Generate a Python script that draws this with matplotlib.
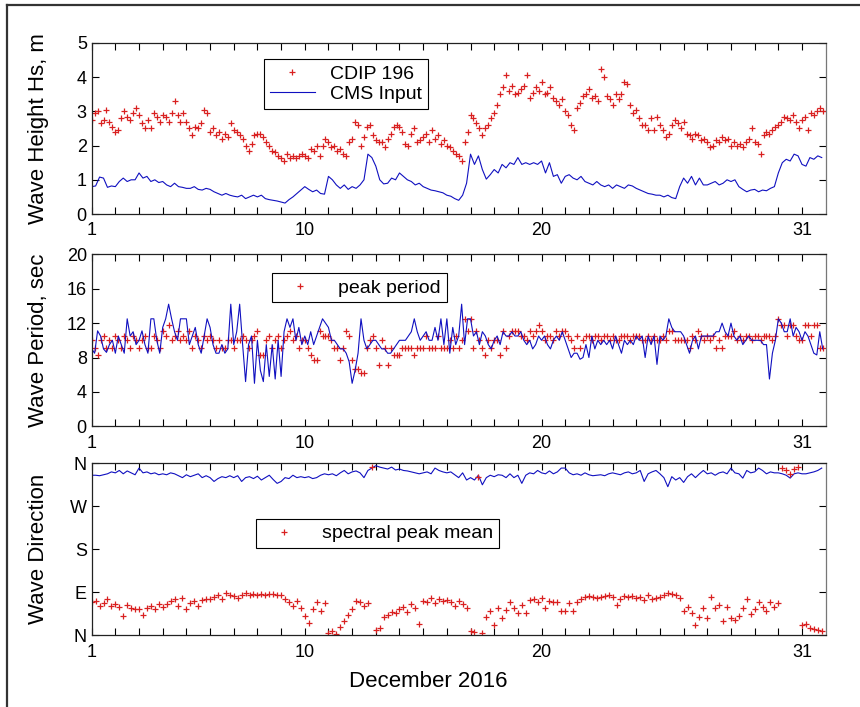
import numpy as np
import matplotlib
matplotlib.use("Agg")
import matplotlib.pyplot as plt
from matplotlib.lines import Line2D

plt.rcParams['font.family'] = ['Liberation Sans', 'DejaVu Sans']

# --- data (December 2016) ---
# significant wave height, CDIP 196 buoy (8 samples / day)
hs_cdip = [
    2.75, 2.95, 3.0, 2.65, 2.75, 3.05, 2.7, 2.55,
    2.4, 2.45, 2.8, 3.0, 2.85, 2.75, 2.95, 3.1,
    2.9, 2.65, 2.5, 2.75, 2.5, 2.95, 2.85, 2.7,
    2.9, 2.85, 2.7, 2.95, 3.3, 2.9, 2.7, 2.95,
    2.7, 2.5, 2.3, 2.55, 2.5, 2.65, 3.05, 2.95,
    2.4, 2.5, 2.3, 2.4, 2.2, 2.35, 2.25, 2.65,
    2.45, 2.4, 2.3, 2.2, 2.0, 1.85, 2.05, 2.3,
    2.35, 2.35, 2.25, 2.1, 2.0, 1.85, 1.8, 1.7,
    1.65, 1.55, 1.75, 1.65, 1.7, 1.65, 1.7, 1.75,
    1.7, 1.65, 1.9, 1.85, 2.0, 1.7, 2.0, 2.2,
    2.1, 1.95, 2.0, 1.85, 1.9, 1.75, 1.7, 2.1,
    2.2, 2.7, 2.6, 2.0, 2.25, 2.55, 2.6, 2.3,
    2.15, 2.1, 2.1, 1.95, 2.2, 2.35, 2.55, 2.6,
    2.55, 2.4, 2.05, 2.0, 2.35, 2.5, 2.1, 2.15,
    2.25, 2.35, 2.1, 2.45, 2.2, 2.3, 2.05, 2.15,
    2.0, 1.95, 1.85, 1.75, 1.7, 1.55, 2.1, 2.4,
    2.9, 2.8, 2.65, 2.5, 2.3, 2.5, 2.6, 2.8,
    2.95, 3.2, 3.5, 3.7, 4.05, 3.6, 3.75, 3.5,
    3.55, 3.65, 3.75, 4.05, 3.4, 3.55, 3.7, 3.6,
    3.85, 3.5, 3.55, 3.7, 3.4, 3.3, 3.2, 3.35,
    3.0, 2.9, 2.6, 2.45, 3.1, 3.25, 3.45, 3.5,
    3.65, 3.4, 3.45, 3.3, 4.25, 4.0, 3.45, 3.35,
    3.2, 3.5, 3.35, 3.5, 3.85, 3.8, 3.2, 2.95,
    3.05, 2.8, 2.6, 2.6, 2.45, 2.8, 2.45, 2.85,
    2.6, 2.45, 2.25, 2.35, 2.6, 2.75, 2.65, 2.5,
    2.7, 2.35, 2.3, 2.2, 2.35, 2.3, 2.15, 2.2,
    2.1, 1.95, 2.0, 2.15, 2.1, 2.25, 2.15, 2.2,
    2.0, 2.1, 2.0, 2.05, 1.95, 2.1, 2.2, 2.5,
    2.1, 2.05, 1.75, 2.3, 2.4, 2.35, 2.45, 2.55,
    2.6, 2.7, 2.85, 2.8, 2.75, 2.9, 2.7, 2.5,
    2.75, 2.85, 2.45, 2.95, 2.9, 3.0, 3.1, 3.0,
]

# wave height used as CMS input (6 samples / day)
hs_cms = [
    0.8, 0.82, 1.08, 1.05, 0.78, 0.82,
    0.8, 0.95, 1.05, 0.95, 1.0, 1.0,
    1.2, 1.05, 1.1, 0.95, 1.0, 0.92,
    0.95, 0.85, 0.8, 0.9, 0.8, 0.78,
    0.75, 0.75, 0.8, 0.72, 0.7, 0.75,
    0.72, 0.65, 0.6, 0.55, 0.6, 0.55,
    0.52, 0.5, 0.55, 0.45, 0.5, 0.55,
    0.5, 0.55, 0.45, 0.42, 0.4, 0.38,
    0.35, 0.32, 0.42, 0.5, 0.6, 0.7,
    0.8, 0.72, 0.65, 0.7, 0.6, 0.58,
    1.1, 1.0, 0.85, 0.75, 0.85, 0.72,
    0.8, 0.75, 0.85, 1.0, 1.75, 1.65,
    1.4, 1.0, 0.88, 0.9, 1.05, 1.0,
    1.2, 1.1, 1.0, 0.95, 0.85, 0.9,
    0.8, 0.75, 0.7, 0.68, 0.65, 0.62,
    0.55, 0.52, 0.45, 0.4, 0.55, 0.9,
    1.75, 1.45, 1.7, 1.3, 1.02, 1.15,
    1.3, 1.2, 1.45, 1.35, 1.5, 1.45,
    1.65, 1.45, 1.5, 1.45, 1.5, 1.45,
    1.55, 1.2, 1.5, 1.1, 1.15, 0.9,
    1.1, 1.15, 1.05, 1.0, 1.1, 0.95,
    0.9, 0.85, 0.95, 0.85, 0.8, 0.85,
    0.75, 0.85, 0.8, 0.75, 0.85, 0.82,
    0.75, 0.7, 0.65, 0.6, 0.58, 0.55,
    0.55, 0.5, 0.55, 0.48, 0.45, 0.8,
    1.05, 0.9, 1.1, 0.85, 1.05, 0.85,
    0.85, 0.9, 0.95, 0.85, 0.9, 1.0,
    0.95, 1.0, 0.8, 0.72, 0.65, 0.7,
    0.72, 0.65, 0.7, 0.68, 0.75, 0.8,
    1.2, 1.5, 1.6, 1.55, 1.75, 1.7,
    1.45, 1.4, 1.65, 1.6, 1.7, 1.65,
]

# peak period, CDIP (8 samples / day)
tp_cdip = [
    10.0, 9.09, 8.33, 10.0, 10.53, 9.09, 10.0, 9.09,
    10.53, 10.0, 9.09, 10.53, 10.0, 9.09, 10.53, 10.0,
    9.09, 10.0, 10.53, 9.09, 9.09, 10.53, 10.0, 9.09,
    11.11, 10.53, 11.76, 10.0, 10.53, 11.11, 10.0, 10.53,
    10.0, 11.11, 9.09, 10.53, 10.0, 9.09, 10.53, 10.0,
    10.53, 10.0, 9.09, 10.0, 9.09, 9.09, 10.0, 10.0,
    9.09, 10.0, 10.0, 10.53, 10.0, 9.09, 10.0, 10.53,
    11.11, 8.33, 8.33, 10.0, 10.53, 9.09, 10.0, 10.53,
    9.09, 10.0, 10.53, 11.11, 10.0, 10.53, 9.09, 10.0,
    10.0, 9.09, 8.33, 7.69, 7.69, 11.11, 10.53, 10.53,
    10.53, 10.0, 9.09, 9.09, 7.69, 9.09, 11.11, 10.53,
    7.69, 6.67, 6.67, 6.25, 6.25, 9.09, 10.0, 10.53,
    9.09, 7.14, 10.0, 9.09, 7.14, 9.09, 8.33, 8.33,
    8.33, 9.09, 9.09, 9.09, 9.09, 8.33, 9.09, 9.09,
    9.09, 10.53, 9.09, 9.09, 9.09, 10.53, 9.09, 9.09,
    9.09, 10.0, 9.09, 10.53, 9.09, 10.0, 12.5, 11.11,
    12.5, 9.09, 11.11, 10.0, 9.09, 8.33, 10.0, 9.09,
    10.0, 10.0, 8.33, 11.11, 9.09, 10.53, 11.11, 11.11,
    11.11, 10.53, 10.53, 10.0, 11.11, 10.53, 11.11, 11.76,
    11.11, 10.0, 10.53, 10.53, 10.0, 11.11, 10.53, 11.11,
    11.11, 10.53, 10.0, 9.09, 10.53, 9.09, 10.0, 10.53,
    10.53, 10.0, 10.53, 10.53, 10.0, 10.53, 10.53, 10.0,
    10.53, 10.0, 10.0, 10.53, 10.53, 10.53, 10.0, 10.53,
    10.53, 10.53, 10.0, 10.0, 10.53, 10.0, 10.53, 10.0,
    10.0, 10.53, 10.0, 11.11, 11.11, 10.0, 10.0, 10.0,
    10.0, 10.0, 9.09, 10.53, 10.0, 11.11, 10.53, 10.0,
    10.53, 10.0, 10.53, 9.09, 10.0, 9.09, 10.53, 10.53,
    10.53, 11.11, 10.0, 10.53, 10.0, 10.53, 10.53, 10.0,
    10.53, 10.53, 10.0, 10.53, 10.53, 10.53, 10.0, 10.53,
    12.5, 11.76, 11.76, 10.53, 11.76, 11.76, 10.53, 10.0,
    10.0, 11.76, 11.76, 10.53, 11.76, 11.76, 9.09, 9.09,
]

# peak period used as CMS input (8 samples / day)
tp_cms = [
    9.0, 8.5, 11.1, 10.5, 9.0, 8.6, 9.5, 10.0,
    8.5, 10.5, 9.5, 8.5, 12.5, 10.5, 11.0, 9.5,
    10.0, 11.1, 9.5, 8.5, 12.5, 12.5, 10.0, 8.5,
    11.5, 12.5, 14.2, 12.5, 11.0, 10.0, 12.5, 12.5,
    12.5, 9.5, 10.5, 11.5, 9.5, 8.5, 10.5, 12.5,
    11.5, 9.5, 8.5, 8.5, 9.5, 8.5, 9.0, 14.2,
    9.5, 11.0, 14.2, 9.5, 5.2, 9.5, 10.5, 5.0,
    10.0, 6.5, 5.2, 9.5, 5.8, 9.5, 5.5, 10.0,
    5.8, 11.0, 12.5, 11.5, 12.5, 10.0, 11.5, 9.5,
    10.5, 9.5, 11.0, 9.5, 10.5, 11.5, 12.5, 12.0,
    11.5, 10.0, 10.0, 9.5, 9.0, 9.0, 8.5, 7.5,
    5.0, 6.5, 8.5, 12.5, 10.0, 9.0, 9.5, 10.0,
    10.0, 9.5, 9.0, 9.0, 8.5, 8.5, 9.0, 9.5,
    10.0, 10.0, 10.0, 10.5, 11.0, 12.5, 11.0, 10.0,
    10.5, 11.0, 10.0, 10.0, 11.5, 10.0, 12.5, 9.5,
    12.5, 8.5, 11.5, 9.5, 10.5, 14.2, 9.5, 12.5,
    12.5, 10.5, 11.0, 9.5, 11.0, 10.5, 9.5, 9.0,
    10.0, 10.5, 9.5, 11.0, 10.5, 10.5, 11.0, 10.5,
    10.5, 11.0, 10.0, 9.5, 10.0, 9.0, 9.5, 10.5,
    10.0, 10.5, 9.5, 9.0, 10.0, 10.5, 10.0, 11.0,
    10.0, 9.0, 8.0, 8.5, 8.5, 7.8, 8.0, 9.5,
    8.0, 10.5, 9.0, 10.0, 9.5, 10.0, 9.5, 10.0,
    9.0, 10.5, 9.5, 8.5, 10.0, 9.5, 10.0, 9.5,
    10.5, 10.0, 10.5, 8.0, 10.5, 9.5, 10.5, 7.2,
    10.5, 10.0, 10.5, 12.5, 11.5, 11.0, 11.0, 11.0,
    10.5, 9.5, 8.5, 10.0, 10.5, 9.0, 10.5, 10.5,
    10.5, 10.5, 10.5, 11.0, 11.0, 12.0, 11.0, 10.5,
    12.0, 10.5, 10.0, 10.5, 9.5, 10.0, 10.5, 10.0,
    10.0, 10.0, 10.0, 9.5, 9.5, 5.5, 8.5, 10.0,
    12.5, 12.0, 11.0, 11.0, 12.5, 10.5, 11.5, 11.0,
    10.0, 11.0, 10.5, 9.5, 8.5, 8.3, 11.0, 9.0,
]

# wave direction, spectral peak mean (deg, 6 samples / day)
dir_cdip = [
    70, 72, 62, 68, 75, 62,
    65, 60, 40, 64, 58, 56,
    55, 42, 58, 62, 55, 65,
    60, 65, 72, 75, 62, 78,
    55, 68, 72, 62, 74, 76,
    76, 80, 85, 76, 88, 84,
    82, 78, 85, 88, 85, 86,
    85, 86, 84, 87, 86, 85,
    84, 75, 70, 62, 72, 58,
    40, 25, 55, 70, 50, 68,
    5, 8, 3, 18, 30, 42,
    55, 72, 70, 62, 68, 352,
    12, 15, 38, 42, 48, 46,
    55, 60, 48, 66, 58, 24,
    72, 70, 78, 68, 75, 72,
    74, 70, 62, 72, 66, 58,
    8, 6, 332, 4, 39, 50,
    22, 58, 36, 53, 70, 57,
    46, 64, 46, 74, 76, 70,
    79, 58, 72, 70, 70, 50,
    50, 67, 50, 70, 77, 81,
    82, 80, 78, 80, 82, 84,
    80, 64, 76, 82, 80, 82,
    78, 80, 74, 84, 76, 78,
    80, 84, 88, 86, 84, 78,
    50, 60, 46, 22, 39, 57,
    36, 81, 57, 64, 29, 60,
    36, 32, 40, 57, 77, 45,
    56, 70, 60, 50, 70, 60,
    67, 350, 345, 338, 348, 352,
    22, 24, 16, 13, 11, 10,
]

# wave direction used as CMS input (deg, 6 samples / day)
dir_cms = [
    335, 335, 334, 336, 338, 342,
    340, 345, 338, 344, 340, 336,
    350, 340, 342, 338, 340, 336,
    338, 336, 340, 338, 334, 330,
    336, 332, 335, 338, 330, 334,
    330, 322, 328, 332, 330, 334,
    330, 334, 322, 330, 332, 328,
    333, 325, 330, 335, 326, 318,
    322, 330, 328, 335, 330, 332,
    330, 332, 328, 330, 335, 338,
    336, 338, 334, 340, 345, 338,
    342, 344, 340, 330, 345, 350,
    355, 352, 350, 348, 352, 346,
    348, 345, 344, 342, 340, 338,
    340, 342, 338, 350, 345, 342,
    340, 342, 336, 330, 340, 325,
    330, 325, 335, 315, 330, 335,
    332, 336, 335, 330, 338, 330,
    335, 318, 335, 340, 338, 345,
    340, 338, 344, 338, 342, 350,
    350, 340, 336, 338, 335, 340,
    336, 334, 335, 336, 334, 338,
    340, 338, 336, 340, 342, 338,
    340, 345, 322, 338, 342, 345,
    338, 330, 311, 332, 325, 330,
    320, 332, 338, 330, 338, 345,
    338, 340, 335, 340, 342, 338,
    350, 340, 338, 329, 345, 340,
    342, 350, 345, 338, 342, 340,
    340, 338, 335, 329, 338, 340,
    338, 338, 340, 342, 345, 350,
]

day_ticks = list(range(1, 32))
day_labels = ['1', '10', '20', '31']
dir_ticks = [0, 90, 180, 270, 360]
dir_labels = ['N', 'E', 'S', 'W', 'N']

t8 = 1 + np.arange(len(hs_cdip)) / 8.0
t6 = 1 + np.arange(len(hs_cms)) / 6.0
t8p = 1 + np.arange(len(tp_cdip)) / 8.0
t6d = 1 + np.arange(len(dir_cdip)) / 6.0

RED = '#d92020'
BLUE = '#1010c0'

fig = plt.figure(figsize=(8.6, 7.07), dpi=100)
fig.add_artist(Line2D([0.0076, 0.0076], [0, 0.9936], transform=fig.transFigure,
                      color='#333333', lw=1.6))
fig.add_artist(Line2D([0.0076, 1.0], [0.9936, 0.9936], transform=fig.transFigure,
                      color='#333333', lw=1.6))

left, width, height = 0.1066, 0.8535, 0.2433
ax1 = fig.add_axes([left, 0.6973, width, 0.2419])
ax2 = fig.add_axes([left, 0.3970, width, height])
ax3 = fig.add_axes([left, 0.1014, width, height])

mk = dict(ls='none', marker='+', ms=5, mew=0.9, color=RED)

ax1.plot(t8, hs_cdip, label='CDIP 196', **mk)
ax1.plot(t6, hs_cms, color=BLUE, lw=0.8, label='CMS Input')
ax1.set_ylim(0, 5)
ax1.set_yticks([0, 1, 2, 3, 4, 5])
ax1.set_ylabel('Wave Height Hs, m', fontsize=16)

ax2.plot(t8p, tp_cdip, label='peak period', **mk)
ax2.plot(t8p, tp_cms, color=BLUE, lw=0.8)
ax2.set_ylim(0, 20)
ax2.set_yticks([0, 4, 8, 12, 16, 20])
ax2.set_ylabel('Wave Period, sec', fontsize=16)

ax3.plot(t6d, dir_cms, color=BLUE, lw=0.8)
ax3.plot(t6d, dir_cdip, label='spectral peak mean', **mk)
ax3.set_ylim(0, 360)
ax3.set_yticks(dir_ticks)
ax3.set_yticklabels(dir_labels)
ax3.set_ylabel('Wave Direction', fontsize=16)
ax3.set_xlabel('December 2016', fontsize=16)
ax3.xaxis.set_label_coords(0.458, -0.21)

leg_kw = dict(loc='upper left', fontsize=14, frameon=True, fancybox=False,
              edgecolor='black', framealpha=1, borderpad=0.3, labelspacing=0.15,
              handlelength=2.3, handletextpad=0.8, borderaxespad=0)
l1 = ax1.legend(bbox_to_anchor=(0.2347, 0.906), **leg_kw)
l2 = ax2.legend(bbox_to_anchor=(0.2456, 0.891), **leg_kw)
l3 = ax3.legend(bbox_to_anchor=(0.2238, 0.676), **leg_kw)
for lg in (l1, l2, l3):
    lg.get_frame().set_linewidth(0.8)

for ax in (ax1, ax2, ax3):
    ax.set_xlim(1, 32)
    ax.set_xticks(day_ticks)
    ax.set_xticklabels([str(d) if str(d) in day_labels else '' for d in day_ticks])
    ax.tick_params(direction='in', top=True, right=True, length=5, width=0.8,
                   labelsize=13, colors='black')
    ax.tick_params(axis='x', pad=6)
    ax.yaxis.set_label_coords(-0.058, 0.5)
    for s in ax.spines.values():
        s.set_color('#222222')
        s.set_linewidth(0.9)
    ax.spines['right'].set_color('#777777')

fig.savefig('out.png', dpi=100, facecolor='white')
